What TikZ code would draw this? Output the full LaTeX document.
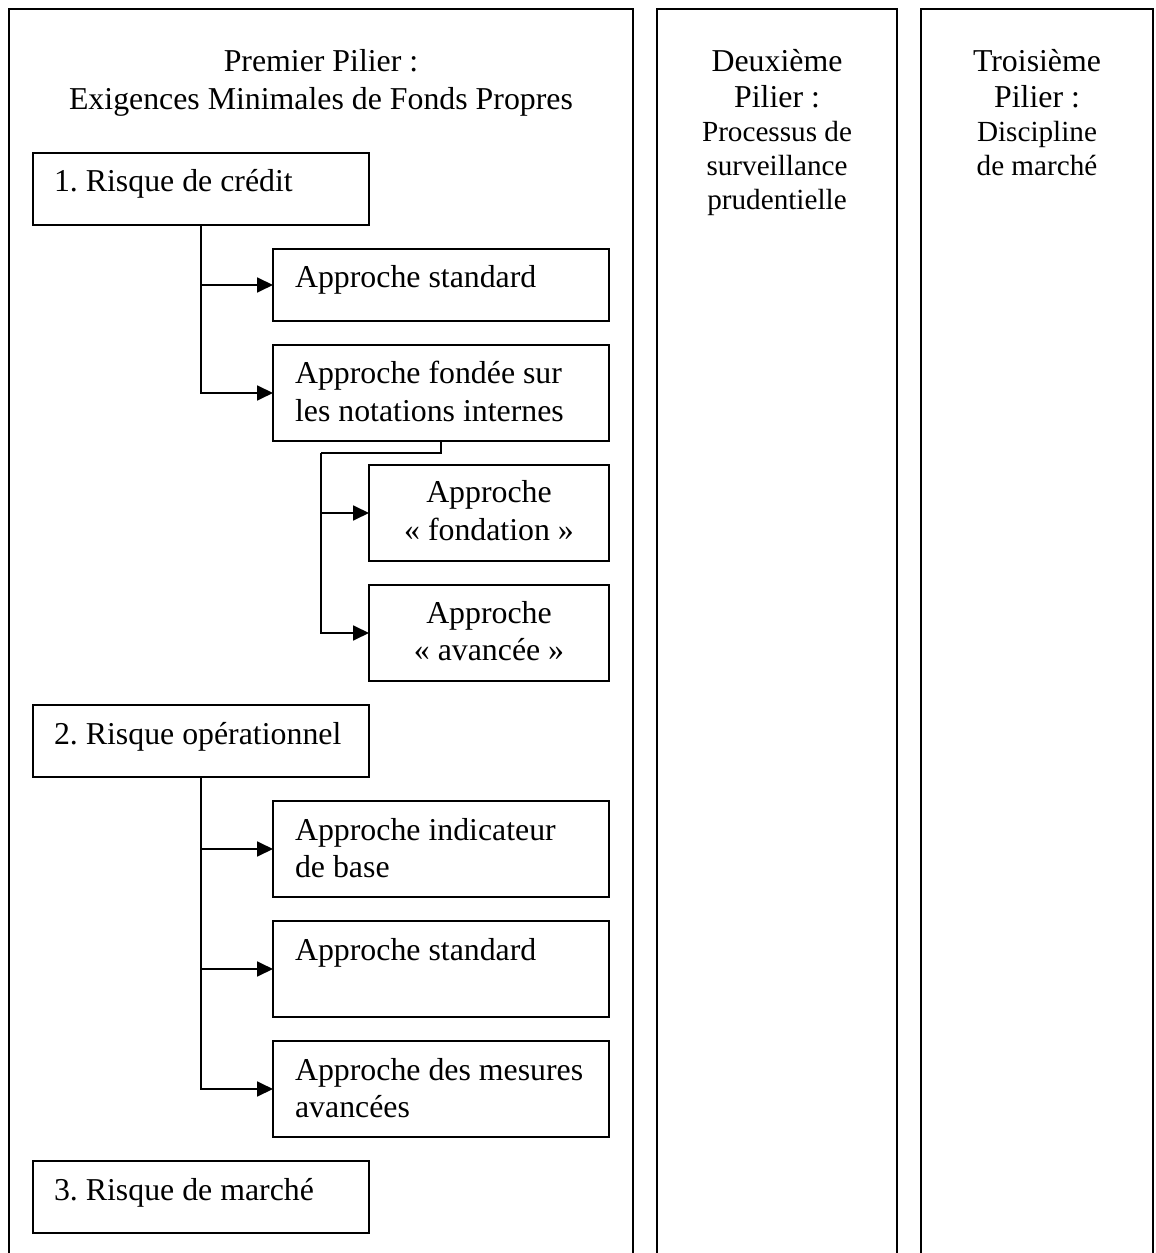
\documentclass[tikz,border=0pt]{standalone}
\usepackage{fontspec}
\setmainfont{Liberation Serif}
\usetikzlibrary{arrows.meta}
\newlength\pxl
\setlength\pxl{0.377pt}
\frenchspacing
\begin{document}
\frenchspacing
\begin{tikzpicture}[x=0.377pt,y=-0.377pt,
  line width=0.8pt,
  box/.style={draw, rectangle, inner sep=0pt, outer sep=0pt, anchor=north west},
  txt/.style={inner sep=0pt, font=\fontsize{12}{13.95}\selectfont},
  link/.style={-{Triangle[length=6pt,width=5.6pt]}, line width=0.8pt},
  ]
\useasboundingbox (0,0) rectangle (1155,1253);

% pillars (open at the bottom)
\draw (9,1253) -- (9,9) -- (633,9) -- (633,1253);
\draw (657,1253) -- (657,9) -- (897,9) -- (897,1253);
\draw (921,1253) -- (921,9) -- (1153,9) -- (1153,1253);

% pillar titles
\node[txt, anchor=base, font=\fontsize{12}{14}\selectfont] (p1) at (321,72)
  {\parbox[t]{600\pxl}{\centering Premier Pilier :\\Exigences Minimales de Fonds Propres}};
\node[txt, anchor=base, font=\fontsize{12}{13.5}\selectfont] (p2) at (777,72)
  {\parbox[t]{230\pxl}{\centering Deuxième\\Pilier :}};
\node[txt, anchor=base, font=\fontsize{11}{12.8}\selectfont] (p2b) at (777,142)
  {\parbox[t]{230\pxl}{\centering Processus de\\surveillance\\prudentielle}};
\node[txt, anchor=base, font=\fontsize{12}{13.5}\selectfont] (p3) at (1037,72)
  {\parbox[t]{225\pxl}{\centering Troisième\\Pilier :}};
\node[txt, anchor=base, font=\fontsize{11}{12.8}\selectfont] (p3b) at (1037,142)
  {\parbox[t]{225\pxl}{\centering Discipline\\de marché}};

% boxes
\node[box, minimum width=336*\pxl, minimum height=72*\pxl] (b1) at (33,153) {};
\node[box, minimum width=336*\pxl, minimum height=72*\pxl] (b2) at (273,249) {};
\node[box, minimum width=336*\pxl, minimum height=96*\pxl] (b3) at (273,345) {};
\node[box, minimum width=240*\pxl, minimum height=96*\pxl] (b4) at (369,465) {};
\node[box, minimum width=240*\pxl, minimum height=96*\pxl] (b5) at (369,585) {};
\node[box, minimum width=336*\pxl, minimum height=72*\pxl] (b6) at (33,705) {};
\node[box, minimum width=336*\pxl, minimum height=96*\pxl] (b7) at (273,801) {};
\node[box, minimum width=336*\pxl, minimum height=96*\pxl] (b8) at (273,921) {};
\node[box, minimum width=336*\pxl, minimum height=96*\pxl] (b9) at (273,1041) {};
\node[box, minimum width=336*\pxl, minimum height=72*\pxl] (b10) at (33,1161) {};

% box texts
\node[txt, anchor=base west] (t1) at ([shift={(20,39)}]b1.north west)
  {\parbox[t]{310\pxl}{\raggedright\frenchspacing 1. Risque de crédit}};
\node[txt, anchor=base west] (t2) at ([shift={(21,39)}]b2.north west)
  {\parbox[t]{310\pxl}{\raggedright Approche standard}};
\node[txt, anchor=base west] (t3) at ([shift={(21,39)}]b3.north west)
  {\parbox[t]{310\pxl}{\raggedright Approche fondée sur\\les notations internes}};
\node[txt, anchor=base] (t4) at ([shift={(0,38)}]b4.north)
  {\parbox[t]{230\pxl}{\centering Approche\\«~fondation~»}};
\node[txt, anchor=base] (t5) at ([shift={(0,38)}]b5.north)
  {\parbox[t]{230\pxl}{\centering Approche\\«~avancée~»}};
\node[txt, anchor=base west] (t6) at ([shift={(20,39)}]b6.north west)
  {\parbox[t]{320\pxl}{\raggedright\frenchspacing 2. Risque opérationnel}};
\node[txt, anchor=base west] (t7) at ([shift={(21,39)}]b7.north west)
  {\parbox[t]{310\pxl}{\raggedright Approche indicateur\\de base}};
\node[txt, anchor=base west] (t8) at ([shift={(21,39)}]b8.north west)
  {\parbox[t]{310\pxl}{\raggedright Approche standard}};
\node[txt, anchor=base west] (t9) at ([shift={(21,39)}]b9.north west)
  {\parbox[t]{310\pxl}{\raggedright Approche des mesures\\avancées}};
\node[txt, anchor=base west] (t10) at ([shift={(20,39)}]b10.north west)
  {\parbox[t]{310\pxl}{\raggedright\frenchspacing 3. Risque de marché}};

% connectors
\draw[link] (b1.south) |- (b2.west);
\draw[link] (b1.south) |- (b3.west);

\coordinate (j1) at (321,453);
\draw[line width=1.1pt] (b3.south) |- (j1);
\draw[link] (j1) |- (b4.west);
\draw[link] (j1) |- (b5.west);

\draw[link] (b6.south) |- (b7.west);
\draw[link] (b6.south) |- (b8.west);
\draw[link] (b6.south) |- (b9.west);
\end{tikzpicture}
\end{document}
